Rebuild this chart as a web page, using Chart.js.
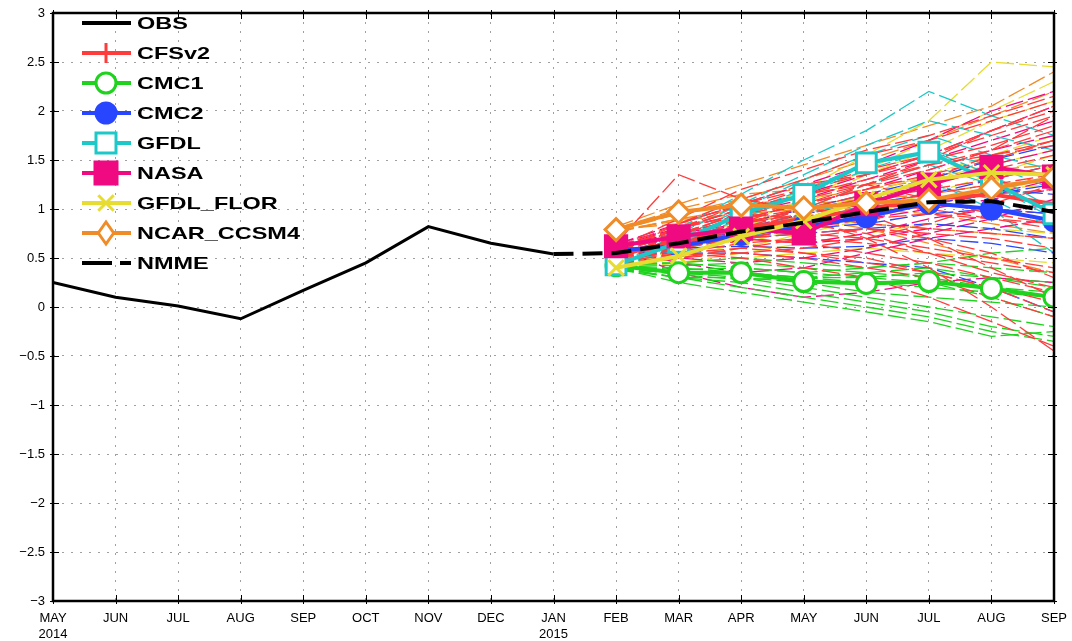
<!DOCTYPE html>
<html>
<head>
<meta charset="utf-8">
<script src="https://cdn.jsdelivr.net/npm/chart.js@4.4.0/dist/chart.umd.min.js"></script>
<style>
  html, body { margin: 0; padding: 0; background: #fff; }
  #wrap { width: 1072px; height: 641px; }
</style>
</head>
<body>
<div id="wrap"><canvas id="myChart" width="1072" height="641"></canvas></div>
<script>
// months May 2014 .. Sep 2015
const months = ['MAY','JUN','JUL','AUG','SEP','OCT','NOV','DEC','JAN','FEB','MAR','APR','MAY','JUN','JUL','AUG','SEP'];
const yearLabels = { 0: '2014', 8: '2015' };
const yTicks = [3, 2.5, 2, 1.5, 1, 0.5, 0, -0.5, -1, -1.5, -2, -2.5, -3];

// observed, May 2014 .. Jan 2015
const obs = [0.25, 0.10, 0.01, -0.12, 0.17, 0.45, 0.82, 0.65, 0.54];
// NMME mean, Jan 2015 .. Sep 2015
const nmme = [0.54, 0.55, 0.65, 0.77, 0.86, 0.97, 1.07, 1.08, 0.97];

// model means, Feb .. Sep 2015
const cfsv2Mean = [0.52, 0.68, 0.80, 0.90, 1.00, 1.10, 1.15, 1.05];
const cmc1Mean  = [0.42, 0.35, 0.35, 0.26, 0.24, 0.26, 0.19, 0.10];
const cmc2Mean  = [0.58, 0.62, 0.74, 0.82, 0.92, 1.06, 1.00, 0.88];
const gfdlMean  = [0.43, 0.66, 0.95, 1.15, 1.47, 1.58, 1.28, 0.95];
const nasaMean  = [0.62, 0.72, 0.80, 0.75, 1.05, 1.25, 1.43, 1.33];
const florMean  = [0.40, 0.52, 0.72, 0.88, 1.10, 1.30, 1.37, 1.35];
const ccsm4Mean = [0.79, 0.97, 1.04, 1.01, 1.06, 1.09, 1.21, 1.32];

// ensemble members, Feb .. Sep 2015
const cfsv2Members = [
  [0.55,0.80,1.00,1.20,1.40,1.55,1.75,1.95],
  [0.50,0.70,0.90,1.05,1.25,1.40,1.60,1.80],
  [0.60,0.85,1.10,1.30,1.55,1.70,1.90,2.10],
  [0.45,0.60,0.70,0.80,0.95,1.05,1.15,1.20],
  [0.50,0.65,0.75,0.85,0.90,0.95,0.90,0.85],
  [0.55,0.70,0.80,0.75,0.70,0.60,0.50,0.40],
  [0.40,0.50,0.55,0.50,0.40,0.30,0.10,-0.10],
  [0.50,0.55,0.50,0.40,0.30,0.10,-0.15,-0.40],
  [0.60,0.75,0.90,1.00,1.10,1.20,1.30,1.45],
  [0.55,0.80,1.05,1.25,1.35,1.50,1.65,1.85],
  [0.45,0.55,0.65,0.70,0.65,0.55,0.45,0.35],
  [0.65,1.35,1.10,1.00,1.05,1.15,1.25,1.35],
  [0.50,0.60,0.75,0.90,1.10,1.30,1.55,1.70],
  [0.55,0.65,0.70,0.65,0.55,0.45,0.30,0.15],
  [0.60,0.90,1.20,1.40,1.60,1.75,1.95,2.15],
  [0.45,0.65,0.85,1.00,1.15,1.25,1.40,1.55],
  [0.50,0.75,0.95,1.15,1.30,1.45,1.55,1.65],
  [0.55,0.70,0.85,0.95,0.85,0.80,0.75,0.70],
  [0.40,0.55,0.60,0.55,0.50,0.35,0.20,0.05],
  [0.60,0.80,0.95,1.05,1.20,1.35,1.50,1.70],
  [0.50,0.60,0.70,0.75,0.80,0.75,0.70,0.60],
  [0.55,0.85,1.05,1.20,1.35,1.55,1.80,2.05],
  [0.45,0.65,0.80,0.95,1.05,1.00,0.90,0.80],
  [0.60,0.70,0.65,0.55,0.45,0.35,0.20,-0.05],
  [0.55,0.75,0.95,0.90,0.70,0.40,0.00,-0.45],
  [0.50,0.70,0.85,1.00,0.95,0.70,0.40,0.10],
  [0.45,0.60,0.80,1.00,1.25,1.50,1.80,2.00],
  [0.60,0.80,1.00,1.15,1.25,1.10,0.95,0.85],
  [0.55,0.60,0.55,0.60,0.70,0.85,1.05,1.25],
  [0.50,0.75,0.90,0.85,0.75,0.55,0.35,0.20],
  [0.55,0.65,0.85,1.10,1.25,1.45,1.60,1.95],
  [0.45,0.50,0.60,0.70,0.80,0.70,0.55,0.30]
];
const cmc1Members = [
  [0.40,0.30,0.25,0.15,0.05,-0.05,-0.20,-0.30],
  [0.42,0.40,0.35,0.30,0.25,0.20,0.15,0.10],
  [0.38,0.35,0.30,0.20,0.10,0.00,-0.10,-0.20],
  [0.45,0.45,0.50,0.45,0.40,0.45,0.40,0.35],
  [0.40,0.30,0.20,0.10,0.00,-0.10,-0.25,-0.35],
  [0.44,0.42,0.45,0.40,0.35,0.30,0.20,0.15],
  [0.40,0.35,0.35,0.30,0.30,0.35,0.30,0.25],
  [0.42,0.38,0.40,0.35,0.40,0.45,0.55,0.60],
  [0.38,0.30,0.30,0.25,0.15,0.10,0.05,0.00],
  [0.41,0.33,0.28,0.30,0.35,0.40,0.30,0.20],
  [0.40,0.25,0.15,0.05,-0.05,-0.15,-0.30,-0.25],
  [0.43,0.45,0.40,0.35,0.30,0.25,0.10,-0.10]
];
const cmc2Members = [
  [0.58,0.65,0.75,0.85,0.95,1.05,1.15,1.25],
  [0.56,0.60,0.70,0.80,0.85,0.95,1.00,0.95],
  [0.60,0.70,0.85,1.00,1.15,1.30,1.50,1.65],
  [0.55,0.55,0.55,0.50,0.45,0.40,0.20,-0.05],
  [0.58,0.62,0.70,0.75,0.80,0.85,0.80,0.70],
  [0.57,0.66,0.78,0.90,1.00,1.10,1.20,1.15],
  [0.59,0.60,0.62,0.60,0.62,0.70,0.65,0.55],
  [0.60,0.72,0.80,0.95,1.05,1.15,1.30,1.45]
];
const gfdlMembers = [
  [0.45,0.80,1.15,1.50,1.80,2.20,1.95,1.75],
  [0.42,0.70,1.00,1.30,1.55,1.75,1.55,1.40],
  [0.40,0.65,0.90,1.15,1.40,1.60,1.45,1.20],
  [0.44,0.60,0.80,1.00,1.25,1.45,1.25,0.90],
  [0.40,0.55,0.70,0.85,1.05,1.25,1.10,0.80],
  [0.43,0.75,1.05,1.35,1.65,1.90,1.75,1.60],
  [0.41,0.60,0.75,0.95,1.10,1.30,1.00,0.55],
  [0.42,0.70,0.95,1.20,1.45,1.60,1.35,1.00]
];
const nasaMembers = [
  [0.60,0.35,0.20,0.10,0.15,0.25,0.30,0.25],
  [0.65,0.80,0.95,1.10,1.30,1.50,1.70,1.90],
  [0.60,0.75,0.90,1.05,1.20,1.40,1.60,1.75],
  [0.62,0.70,0.80,0.85,0.95,1.05,1.15,1.30],
  [0.58,0.65,0.70,0.65,0.70,0.80,0.95,1.05],
  [0.64,0.85,1.05,1.25,1.45,1.70,2.00,2.20],
  [0.60,0.50,0.45,0.50,0.60,0.75,0.90,1.10],
  [0.62,0.75,0.85,1.00,1.10,1.25,1.45,1.60],
  [0.60,0.70,0.75,0.80,0.90,1.00,1.10,1.20],
  [0.60,0.45,0.35,0.40,0.55,0.70,0.80,0.90],
  [0.62,0.80,1.00,1.15,1.35,1.55,1.80,2.05],
  [0.64,0.75,0.70,0.65,0.75,0.90,1.00,0.95]
];
const florMembers = [
  [0.40,0.60,0.90,1.20,1.55,1.90,2.50,2.45],
  [0.38,0.55,0.80,1.05,1.35,1.60,1.90,2.10],
  [0.42,0.55,0.70,0.90,1.10,1.30,1.45,1.60],
  [0.40,0.50,0.65,0.80,0.95,1.10,1.20,1.25],
  [0.39,0.45,0.55,0.65,0.75,0.85,0.80,0.75],
  [0.41,0.60,0.85,1.10,1.40,1.70,2.00,2.30],
  [0.40,0.50,0.60,0.75,0.90,1.05,1.15,1.35],
  [0.38,0.52,0.70,0.85,1.00,1.15,1.35,1.55],
  [0.40,0.45,0.50,0.55,0.60,0.55,0.50,0.45],
  [0.42,0.58,0.75,0.95,1.15,1.35,1.55,1.75]
];
const ccsm4Members = [
  [0.78,0.95,1.10,1.30,1.50,1.70,1.95,2.20],
  [0.80,1.00,1.15,1.20,1.25,1.30,1.40,1.45],
  [0.76,0.90,1.00,1.05,1.10,1.15,1.25,1.30],
  [0.79,0.85,0.90,0.90,0.85,0.80,0.75,0.70],
  [0.82,1.05,1.25,1.45,1.65,1.85,2.05,2.40],
  [0.77,0.90,0.95,0.90,0.80,0.65,0.50,0.35],
  [0.80,0.95,1.05,1.10,1.20,1.30,1.50,1.70],
  [0.78,0.88,0.95,1.00,1.00,0.95,0.85,0.75]
];

const models = [
  { name: 'CFSv2',      color: '#ff3c3c', marker: 'cross',    fill: false, size: 10, mean: cfsv2Mean, members: cfsv2Members },
  { name: 'CMC1',       color: '#1ed21e', marker: 'circle',   fill: false, size: 10, mean: cmc1Mean,  members: cmc1Members },
  { name: 'CMC2',       color: '#2846ff', marker: 'circle',   fill: true,  size: 10, mean: cmc2Mean,  members: cmc2Members },
  { name: 'GFDL',       color: '#1ec8c8', marker: 'rect',     fill: false, size: 10, mean: gfdlMean,  members: gfdlMembers },
  { name: 'NASA',       color: '#f00a82', marker: 'rect',     fill: true,  size: 11, mean: nasaMean,  members: nasaMembers },
  { name: 'GFDL_FLOR',  color: '#e6dc32', marker: 'crossRot', fill: false, size: 11, mean: florMean,  members: florMembers },
  { name: 'NCAR_CCSM4', color: '#f08c28', marker: 'rectRot',  fill: false, size: 11, mean: ccsm4Mean, members: ccsm4Members }
];

const pad = (n, arr) => Array(n).fill(null).concat(arr);
const labels = months.map((m, i) => yearLabels[i] ? [m, yearLabels[i]] : m);

// datasets: first one is drawn on top
const datasets = [];
datasets.push({ label: 'NMME', data: pad(8, nmme), borderColor: '#000', borderWidth: 4,
  borderDash: [20, 9], pointRadius: 0, tension: 0, clip: 0 });
models.slice().reverse().forEach(m => {
  // chart.js squares are drawn at radius*0.707, so scale them up a bit
  const r = m.marker === 'rect' ? Math.round(m.size * 1.35) : m.size;
  datasets.push({ label: m.name, data: pad(9, m.mean), borderColor: m.color, borderWidth: 4,
    pointStyle: m.marker, pointRadius: r, pointBorderWidth: 3, clip: 0,
    pointBorderColor: m.color, pointBackgroundColor: m.fill ? m.color : '#fff', tension: 0 });
});
datasets.push({ label: 'OBS', data: obs, borderColor: '#000', borderWidth: 3, pointRadius: 0, tension: 0, clip: 0 });
models.forEach(m => {
  m.members.forEach(mem => {
    datasets.push({ label: m.name + ' member', data: pad(9, mem), borderColor: m.color,
      borderWidth: 1.3, borderDash: [18, 5], pointRadius: 0, tension: 0, clip: 0 });
  });
});

const legendItems = [{ name: 'OBS', color: '#000', marker: null }]
  .concat(models.map(m => ({ name: m.name, color: m.color, marker: m.marker, fill: m.fill, size: m.size })))
  .concat([{ name: 'NMME', color: '#000', marker: null, dash: true }]);

function drawMarker(ctx, style, x, y, r, color, fill) {
  ctx.save();
  ctx.strokeStyle = color; ctx.fillStyle = fill ? color : '#fff'; ctx.lineWidth = 3;
  ctx.beginPath();
  if (style === 'circle') { ctx.arc(x, y, r, 0, Math.PI * 2); ctx.fill(); ctx.stroke(); }
  else if (style === 'rect') { ctx.rect(x - r, y - r, 2 * r, 2 * r); ctx.fill(); ctx.stroke(); }
  else if (style === 'rectRot') { ctx.moveTo(x, y - r); ctx.lineTo(x + r * 0.7, y); ctx.lineTo(x, y + r); ctx.lineTo(x - r * 0.7, y); ctx.closePath(); ctx.fill(); ctx.stroke(); }
  else if (style === 'cross') { ctx.moveTo(x, y - r); ctx.lineTo(x, y + r); ctx.stroke(); }
  else if (style === 'crossRot') { ctx.moveTo(x - r * 0.7, y - r * 0.7); ctx.lineTo(x + r * 0.7, y + r * 0.7); ctx.moveTo(x + r * 0.7, y - r * 0.7); ctx.lineTo(x - r * 0.7, y + r * 0.7); ctx.stroke(); }
  ctx.restore();
}

const framePlugin = {
  id: 'frame',
  afterDraw(chart) {
    const ctx = chart.ctx, a = chart.chartArea;
    const xs = chart.scales.x, ys = chart.scales.y;
    ctx.save();
    ctx.strokeStyle = '#000';
    ctx.lineWidth = 1;
    ctx.beginPath();
    months.forEach((m, i) => {
      const x = Math.round(xs.getPixelForValue(i)) + 0.5;
      ctx.moveTo(x, a.bottom + 3); ctx.lineTo(x, a.bottom - 6);
      ctx.moveTo(x, a.top - 3); ctx.lineTo(x, a.top + 6);
    });
    yTicks.forEach(v => {
      const y = Math.round(ys.getPixelForValue(v)) + 0.5;
      ctx.moveTo(a.left - 3, y); ctx.lineTo(a.left + 6, y);
      ctx.moveTo(a.right + 3, y); ctx.lineTo(a.right - 6, y);
    });
    ctx.stroke();
    ctx.lineWidth = 2.5;
    ctx.strokeRect(a.left, a.top, a.right - a.left, a.bottom - a.top);

    // legend
    ctx.font = 'bold 17px "Liberation Sans", Arial, sans-serif';
    ctx.textBaseline = 'middle';
    legendItems.forEach((it, i) => {
      const y = 23 + i * 30;
      ctx.strokeStyle = it.color;
      ctx.lineWidth = 4;
      ctx.beginPath();
      if (it.dash) {
        ctx.moveTo(82, y); ctx.lineTo(112, y);
        ctx.moveTo(120, y); ctx.lineTo(131, y);
      } else {
        ctx.moveTo(82, y); ctx.lineTo(131, y);
      }
      ctx.stroke();
      if (it.marker) {
        drawMarker(ctx, it.marker, 106, y, it.size, it.color, it.fill);
      }
      ctx.fillStyle = '#000';
      ctx.save();
      ctx.translate(137, y);
      ctx.scale(1.38, 1);
      ctx.fillText(it.name, 0, 1);
      ctx.restore();
    });
    ctx.restore();
  }
};

new Chart(document.getElementById('myChart').getContext('2d'), {
  type: 'line',
  data: { labels: labels, datasets: datasets },
  plugins: [framePlugin],
  options: {
    responsive: false,
    animation: false,
    devicePixelRatio: 1,
    spanGaps: false,
    layout: { autoPadding: false, padding: { top: 13, right: 18, left: 0, bottom: 0 } },
    plugins: { legend: { display: false }, tooltip: { enabled: false } },
    elements: { line: { borderCapStyle: 'butt' } },
    scales: {
      x: {
        offset: false,
        grid: { color: '#a0a0a0', lineWidth: 1, drawTicks: false },
        border: { display: false, dash: [2, 7] },
        ticks: { autoSkip: false, maxRotation: 0, padding: 10, color: '#000',
          font: { family: '"Liberation Sans", Arial, sans-serif', size: 13 } },
        afterFit(scale) { scale.height = 40; scale.paddingLeft = 0; scale.paddingRight = 0; }
      },
      y: {
        min: -3, max: 3,
        grid: { color: '#a0a0a0', lineWidth: 1, drawTicks: false },
        border: { display: false, dash: [2, 7] },
        ticks: { stepSize: 0.5, padding: 8, color: '#000',
          font: { family: '"Liberation Sans", Arial, sans-serif', size: 13 },
          callback: v => String(v).replace('-', '\u2212') },
        afterFit(scale) { scale.width = 53; scale.paddingTop = 0; scale.paddingBottom = 0; }
      }
    }
  }
});
</script>
</body>
</html>
